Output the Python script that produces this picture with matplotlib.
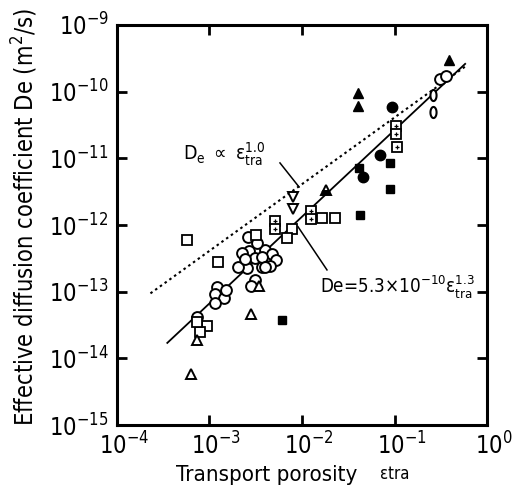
import matplotlib
matplotlib.use('Agg')
import matplotlib.pyplot as plt
import matplotlib.transforms as mtrans
from matplotlib import font_manager
from matplotlib.path import Path
from matplotlib.ticker import LogLocator, NullLocator
import numpy as np

# look for a narrow / condensed sans, the original lettering is narrow
FONT, STRETCH, SCALE = 'Liberation Sans', 'normal', 0.84
for f in font_manager.fontManager.ttflist:
    fn = f.fname.lower()
    if ('narrow' in fn or 'condensed' in fn) and f.style == 'normal' and f.weight in (400, 'normal', 'regular'):
        if 'bold' in fn or 'oblique' in fn or 'italic' in fn or 'mono' in fn or 'serif' in fn:
            continue
        FONT, STRETCH, SCALE = f.name, f.stretch, 1.0
        break

plt.rcParams['font.family'] = [FONT, 'DejaVu Sans']
plt.rcParams['font.stretch'] = STRETCH
plt.rcParams['mathtext.fontset'] = 'custom'
plt.rcParams['mathtext.rm'] = FONT
plt.rcParams['mathtext.it'] = FONT + ':italic'
plt.rcParams['mathtext.bf'] = FONT + ':bold'

# --- data (transport porosity, De in m2/s) ---
open_circle_eps = [2.61e-3, 2.67e-3, 2.24e-3, 3.10e-3, 3.98e-3, 4.74e-3, 5.24e-3,
                   4.51e-3, 3.70e-3, 2.54e-3, 2.03e-3, 3.10e-3, 2.81e-3, 2.42e-3,
                   3.70e-3, 3.98e-3, 3.27e-3,
                   1.21e-3, 1.15e-3, 1.44e-3, 1.15e-3, 1.51e-3, 7.33e-4, 0.310, 0.361]
open_circle_de = [6.64e-13, 4.09e-13, 3.82e-13, 3.21e-13, 4.24e-13, 3.69e-13, 3.00e-13,
                  2.44e-13, 2.36e-13, 2.28e-13, 2.36e-13, 1.50e-13, 1.22e-13, 3.10e-13,
                  3.33e-13, 2.36e-13, 5.40e-13,
                  1.18e-13, 9.27e-14, 8.07e-14, 6.79e-14, 1.06e-13, 4.19e-14, 1.55e-10, 1.72e-10]

ellipse_eps = [0.261, 0.261]
ellipse_de = [8.93e-11, 4.97e-11]

open_square_eps = [5.71e-4, 3.18e-3, 7.74e-3, 6.84e-3, 0.01644, 0.02275,
                   9.40e-4, 7.89e-4, 7.33e-4, 1.24e-3]
open_square_de = [5.98e-13, 7.11e-13, 8.65e-13, 6.47e-13, 1.28e-12, 1.28e-12,
                  3.07e-14, 2.49e-14, 3.52e-14, 2.80e-13]

cross_square_eps = [0.1038, 0.1038, 0.1064, 5.11e-3, 5.11e-3, 0.0125, 0.0125]
cross_square_de = [3.10e-11, 2.30e-11, 1.48e-11, 1.15e-12, 8.74e-13, 1.63e-12, 1.23e-12]

filled_square_eps = [0.0413, 0.0893, 0.0893, 0.0424, 6.08e-3]
filled_square_de = [7.18e-12, 8.53e-12, 3.48e-12, 1.42e-12, 3.78e-14]

filled_circle_eps = [0.0940, 0.0697, 0.0456]
filled_circle_de = [5.90e-11, 1.12e-11, 5.26e-12]

filled_tri_eps = [0.0403, 0.0403, 0.388]
filled_tri_de = [9.57e-11, 6.11e-11, 2.99e-10]

open_tri_eps = [6.31e-4, 2.81e-3, 7.33e-4, 3.43e-3]
open_tri_de = [5.86e-15, 4.65e-14, 1.89e-14, 1.22e-13]

half_tri_eps = [0.01815]
half_tri_de = [3.36e-12]

inv_tri_eps = [8.0e-3, 8.0e-3]
inv_tri_de = [2.64e-12, 1.74e-12]

# fitted lines
FIT_COEF, FIT_EXP, FIT_RANGE = 5.3e-10, 1.3, (3.5e-4, 0.58)
PROP_COEF, PROP_EXP, PROP_RANGE = 4.1e-10, 1.0, (2.3e-4, 0.58)

fig = plt.figure(figsize=(5.22, 4.95), dpi=100)
ax = fig.add_axes([0.2241, 0.1414, 0.7089, 0.8081])
ax.set_xscale('log')
ax.set_yscale('log')
ax.set_xlim(1e-4, 1e0)
ax.set_ylim(1e-15, 1e-9)

e = np.geomspace(*FIT_RANGE, 50)
ax.plot(e, FIT_COEF * e ** FIT_EXP, color='black', lw=1.3, zorder=1)
e = np.geomspace(*PROP_RANGE, 50)
ax.plot(e, PROP_COEF * e ** PROP_EXP, color='black', lw=1.5,
        linestyle=(0, (1.2, 1.6)), zorder=1)

common = dict(linestyle='none', mec='black', zorder=3)
ax.plot(open_circle_eps, open_circle_de, marker='o', mfc='white', ms=7.8, mew=1.4, **common)

th = np.linspace(0, 2 * np.pi, 40)
ellipse = Path(np.column_stack([0.55 * np.cos(th), np.sin(th)]), closed=True)
ax.plot(ellipse_eps, ellipse_de, marker=ellipse, mfc='white', ms=8, mew=1.5, **common)

ax.plot(open_square_eps, open_square_de, marker='s', mfc='white', ms=6.5, mew=1.3, **common)
ax.plot(cross_square_eps, cross_square_de, marker='s', mfc='white', ms=6.5, mew=1.3, **common)
ax.plot(cross_square_eps, cross_square_de, marker='+', ms=3.5, mew=0.9, linestyle='none',
        color='black', zorder=4)
ax.plot(filled_square_eps, filled_square_de, marker='s', mfc='black', ms=6, mew=1, **common)
ax.plot(filled_circle_eps, filled_circle_de, marker='o', mfc='black', ms=7.5, mew=1, **common)
ax.plot(filled_tri_eps, filled_tri_de, marker='^', mfc='black', ms=7.5, mew=1, **common)
ax.plot(open_tri_eps, open_tri_de, marker='^', mfc='white', ms=7, mew=1.4, **common)
ax.plot(half_tri_eps, half_tri_de, marker='^', fillstyle='bottom', mfc='black',
        mfcalt='white', ms=7.5, mew=1.4, **common)
ax.plot(inv_tri_eps, inv_tri_de, marker='v', mfc='white', ms=7.5, mew=1.4, **common)

# annotations
ax.text(5.18e-4, 9.5e-12, r'D$_\mathrm{e}$ $\propto$ ε$^{1.0}_{\mathrm{tra}}$',
        fontsize=14 * SCALE, ha='left', va='baseline')
ax.plot([5.78e-3, 9.29e-3], [8.53e-12, 3.72e-12], color='black', lw=1.1)
ax.text(0.01567, 9.6e-14, r'De=5.3×10$^{-10}$ε$^{1.3}_{\mathrm{tra}}$',
        fontsize=13.5 * SCALE, ha='left', va='baseline')
ax.plot([9.06e-3, 0.01862], [9.4e-13, 2.12e-13], color='black', lw=1.1)

# axes styling
for sp in ax.spines.values():
    sp.set_linewidth(2.2)
ax.xaxis.set_major_locator(LogLocator(base=10, numticks=10))
ax.yaxis.set_major_locator(LogLocator(base=10, numticks=10))
ax.xaxis.set_minor_locator(NullLocator())
ax.yaxis.set_minor_locator(NullLocator())
ax.tick_params(which='major', direction='in', length=7, width=2,
               top=True, right=True, labelsize=17 * SCALE)
ax.tick_params(axis='x', pad=5)
ax.tick_params(axis='y', pad=6)
shift = mtrans.ScaledTranslation(7 / 100, 0, fig.dpi_scale_trans)
for lab in ax.get_xticklabels():
    lab.set_transform(lab.get_transform() + shift)
ax.xaxis.label.set_visible(False)
ax.yaxis.label.set_visible(False)

fig.text(0.048, 0.562, 'Effective diffusion coefficient De (m$^2$/s)',
         rotation=90, ha='center', va='center', fontsize=17 * SCALE)
fig.text(0.51, 0.040, 'Transport porosity', ha='center', va='center', fontsize=16 * SCALE)
fig.text(0.757, 0.042, 'εtra', ha='center', va='center', fontsize=12)

plt.savefig('out.png', dpi=100)
